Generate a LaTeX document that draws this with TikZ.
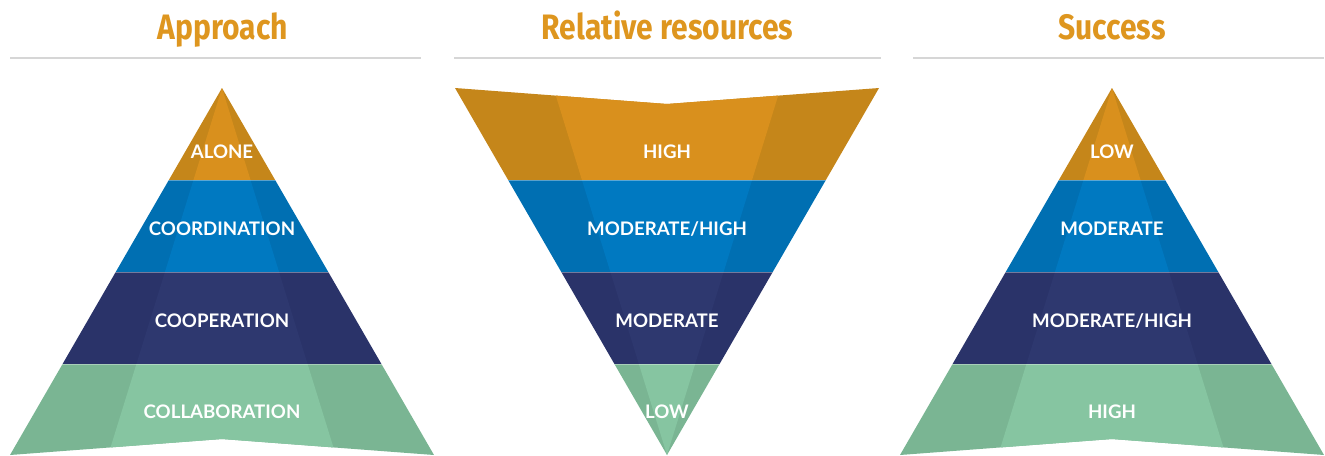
\documentclass[tikz,border=0pt]{standalone}
\usepackage{fontspec}
\setmainfont{Lato}
\newfontfamily\titlefont[FakeStretch=0.85]{Fira Sans}
\definecolor{orangeL}{HTML}{D9901D}
\definecolor{orangeD}{HTML}{C5861A}
\definecolor{blueL}{HTML}{0079C1}
\definecolor{blueD}{HTML}{006FB2}
\definecolor{navyL}{HTML}{2E386F}
\definecolor{navyD}{HTML}{2A3369}
\definecolor{greenL}{HTML}{86C5A1}
\definecolor{greenD}{HTML}{7AB593}
\definecolor{titleC}{HTML}{DE961F}
\definecolor{ruleC}{HTML}{D6D6D6}
\newcommand\bandfill[5]{% cx, ya, yb, light, dark ; light triangle given by \lighttri
  \begin{scope}
    \clip (#1-260,#2) rectangle (#1+260,#3);
    \fill[#5] (#1-260,#2) rectangle (#1+260,#3);
    \fill[#4] \lighttri;
  \end{scope}}
\newcommand\uppyr[1]{%
  \begin{scope}
    \clip (#1,88) -- (#1+212,455) -- (#1,439) -- (#1-212,455) -- cycle;
    \def\lighttri{(#1,88) -- (#1-116,462) -- (#1+116,462) -- cycle}
    \bandfill{#1}{80}{180}{orangeL}{orangeD}
    \bandfill{#1}{180}{272}{blueL}{blueD}
    \bandfill{#1}{272}{364}{navyL}{navyD}
    \bandfill{#1}{364}{462}{greenL}{greenD}
    \foreach \yy in {180,272,364} \draw[sep] (#1-260,\yy) -- (#1+260,\yy);
  \end{scope}}
\newcommand\downpyr[1]{%
  \begin{scope}
    \clip (#1-212,88) -- (#1,104) -- (#1+212,88) -- (#1,455) -- cycle;
    \def\lighttri{(#1,455) -- (#1-116,80) -- (#1+116,80) -- cycle}
    \bandfill{#1}{80}{180}{orangeL}{orangeD}
    \bandfill{#1}{180}{272}{blueL}{blueD}
    \bandfill{#1}{272}{364}{navyL}{navyD}
    \bandfill{#1}{364}{462}{greenL}{greenD}
    \foreach \yy in {180,272,364} \draw[sep] (#1-260,\yy) -- (#1+260,\yy);
  \end{scope}}
\begin{document}
\begin{tikzpicture}[x=0.75pt,y=-0.75pt,
  title/.style={font=\titlefont\bfseries\fontsize{26.5}{30}\selectfont, text=titleC, anchor=base, inner sep=0pt},
  lbl/.style={font=\bfseries\fontsize{14}{16}\selectfont, text=white, anchor=base, inner sep=0pt},
  rulel/.style={draw=ruleC, line width=1.4pt},
  sep/.style={draw=white, draw opacity=0.35, line width=0.6pt}]
\useasboundingbox (0,0) rectangle (1325,455);
% rules
\coordinate (r1a) at (10,58);  \coordinate (r1b) at (421,58);
\coordinate (r2a) at (454,58); \coordinate (r2b) at (881,58);
\coordinate (r3a) at (913,58); \coordinate (r3b) at (1324,58);
\draw[rulel] (r1a) -- (r1b);
\draw[rulel] (r2a) -- (r2b);
\draw[rulel] (r3a) -- (r3b);
% titles
\node[title] (t1) at (223,39) {Approach};
\node[title] (t2) at (667.5,39) {Relative resources};
\node[title] (t3) at (1112,39) {Success};
% pyramids
\uppyr{222}
\downpyr{667}
\uppyr{1112}
% labels
\node[lbl] (a1) at (222,158.3) {ALONE};
\node[lbl] (a2) at (222,235.7) {COORDINATION};
\node[lbl] (a3) at (222,327.3) {COOPERATION};
\node[lbl] (a4) at (222,418.3) {COLLABORATION};
\node[lbl] (b1) at (667,158.3) {HIGH};
\node[lbl] (b2) at (667,235.7) {MODERATE/HIGH};
\node[lbl] (b3) at (667,327.3) {MODERATE};
\node[lbl] (b4) at (667,418.3) {LOW};
\node[lbl] (c1) at (1112,158.3) {LOW};
\node[lbl] (c2) at (1112,235.7) {MODERATE};
\node[lbl] (c3) at (1112,327.3) {MODERATE/HIGH};
\node[lbl] (c4) at (1112,418.3) {HIGH};
\end{tikzpicture}
\end{document}
